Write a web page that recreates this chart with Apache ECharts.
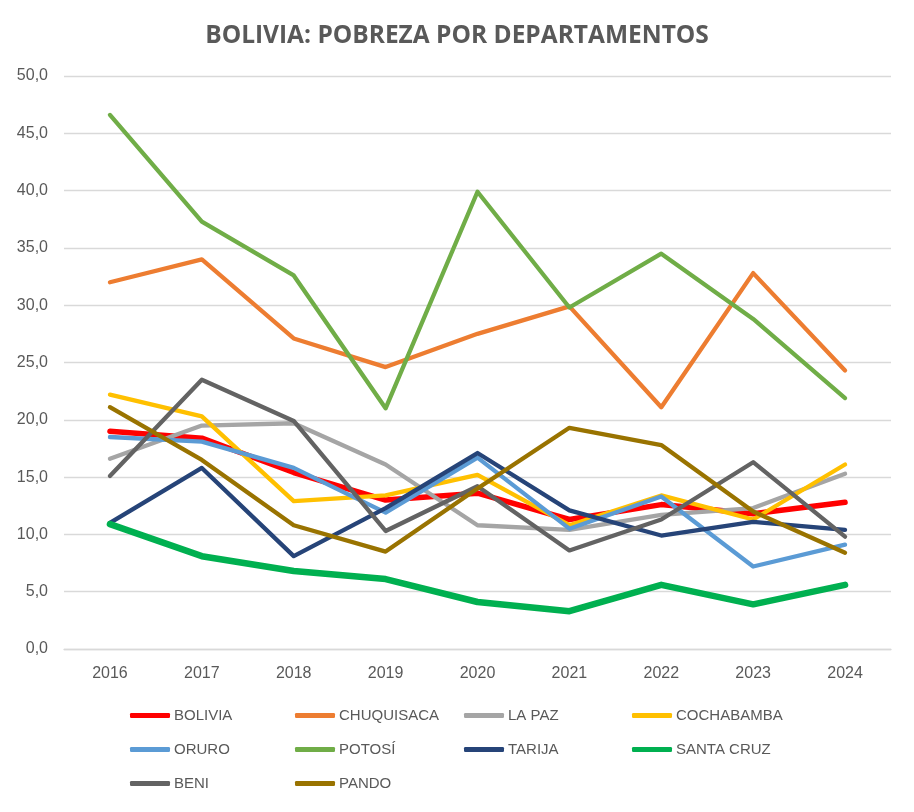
<!DOCTYPE html>
<html><head><meta charset="utf-8">
<script src="https://cdn.jsdelivr.net/npm/echarts@6/dist/echarts.min.js"></script>
<style>html,body{margin:0;padding:0;background:#fff}#c{width:914px;height:812px}</style>
</head><body><div id="c"></div>
<script>
const years = ['2016','2017','2018','2019','2020','2021','2022','2023','2024'];
const bolivia    = [19.0, 18.4, 15.4, 13.0, 13.6, 11.3, 12.6, 11.8, 12.8];
const chuquisaca = [32.0, 34.0, 27.1, 24.6, 27.5, 29.9, 21.1, 32.8, 24.3];
const laPaz      = [16.6, 19.5, 19.7, 16.1, 10.8, 10.4, 11.7, 12.3, 15.3];
const cochabamba = [22.2, 20.3, 12.9, 13.4, 15.2, 10.8, 13.4, 11.3, 16.1];
const oruro      = [18.5, 18.1, 15.8, 11.9, 16.7, 10.5, 13.3, 7.2, 9.1];
const potosi     = [46.6, 37.3, 32.6, 21.0, 39.9, 29.8, 34.5, 28.8, 21.9];
const tarija     = [11.0, 15.8, 8.1, 12.3, 17.1, 12.1, 9.9, 11.1, 10.4];
const santaCruz  = [10.9, 8.1, 6.8, 6.1, 4.1, 3.3, 5.6, 3.9, 5.6];
const beni       = [15.1, 23.5, 19.9, 10.3, 14.2, 8.6, 11.3, 16.3, 9.8];
const pando      = [21.1, 16.5, 10.8, 8.5, 14.0, 19.3, 17.8, 12.0, 8.4];
const yTicks = [0, 5, 10, 15, 20, 25, 30, 35, 40, 45, 50];

const seriesDefs = [
  ['BOLIVIA', bolivia, '#FF0000', 5.5],
  ['CHUQUISACA', chuquisaca, '#ED7D31', 4.3],
  ['LA PAZ', laPaz, '#A5A5A5', 4.3],
  ['COCHABAMBA', cochabamba, '#FFC000', 4.3],
  ['ORURO', oruro, '#5B9BD5', 4.3],
  ['POTOSÍ', potosi, '#70AD47', 4.3],
  ['TARIJA', tarija, '#264478', 4.3],
  ['SANTA CRUZ', santaCruz, '#00B050', 6.5],
  ['BENI', beni, '#636363', 4.3],
  ['PANDO', pando, '#997300', 4.3]
];
const font = '"Liberation Sans", sans-serif';
const legendCols = [
  ['BOLIVIA','ORURO','BENI'],
  ['CHUQUISACA','POTOSÍ','PANDO'],
  ['LA PAZ','TARIJA'],
  ['COCHABAMBA','SANTA CRUZ']
];
const legendLeft = [125, 290, 459, 627];

const chart = echarts.init(document.getElementById('c'), null, {renderer:'canvas'});
chart.setOption({
  animation: false,
  backgroundColor: '#fff',
  title: {
    text: 'BOLIVIA: POBREZA POR DEPARTAMENTOS',
    left: 'center', top: 19,
    textStyle: {fontFamily: '"Open Sans", "Liberation Sans", sans-serif', fontWeight: 'bold', fontSize: 24.5, color: '#595959'}
  },
  legend: legendCols.map((col, i) => ({
    data: col, orient: 'vertical', left: legendLeft[i], top: 703,
    icon: 'roundRect',
    itemWidth: 40, itemHeight: 5, itemGap: 19,
    textStyle: {fontFamily: font, fontSize: 15, color: '#595959', padding: [0,0,0,-1]},
    selectedMode: false
  })),
  grid: {left: 64, right: 23, top: 76, bottom: 163},
  xAxis: {
    type: 'category', data: years, boundaryGap: true,
    axisLine: {show: true, lineStyle: {color: '#D9D9D9', width: 1.3}},
    axisTick: {show: false},
    axisLabel: {fontFamily: font, fontSize: 16, color: '#595959', margin: 17}
  },
  yAxis: {
    type: 'value', min: yTicks[0], max: yTicks[yTicks.length-1], interval: 5,
    axisLine: {show: false}, axisTick: {show: false},
    splitLine: {lineStyle: {color: '#D9D9D9', width: 1.3}},
    axisLabel: {fontFamily: font, fontSize: 16, color: '#595959', margin: 16,
      formatter: v => v.toFixed(1).replace('.', ',')}
  },
  series: seriesDefs.map(([name, data, color, w]) => ({
    name, type: 'line', data, symbol: 'none',
    lineStyle: {color, width: w, cap: 'round', join: 'round'},
    itemStyle: {color}
  }))
});
</script></body></html>
